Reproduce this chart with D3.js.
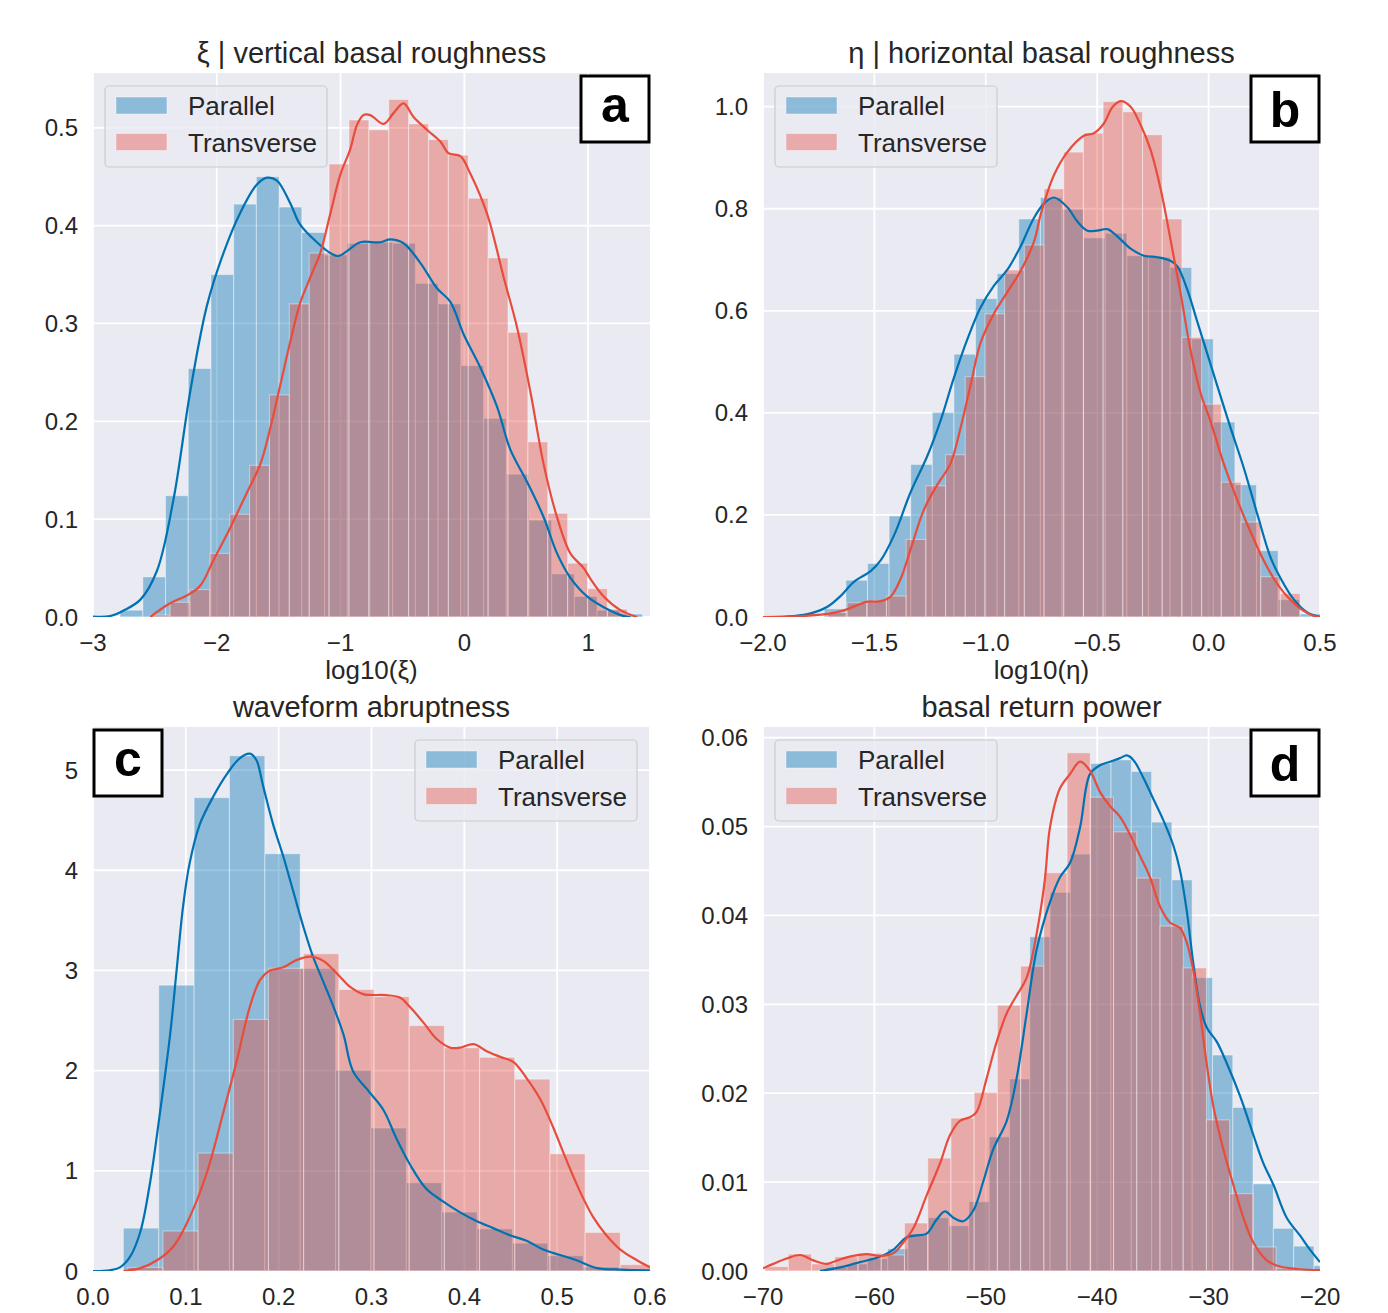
<!DOCTYPE html>
<html><head><meta charset="utf-8">
<script src="https://cdn.jsdelivr.net/npm/d3@7"></script>
<style>
body{margin:0;background:#fff}
text{font-family:"Liberation Sans",Arial,sans-serif;fill:#262626}
</style>
</head><body>
<svg id="chart" width="1388" height="1313"></svg>
<script>
// ---------------- DATA ----------------
const seriesNames = ["Parallel", "Transverse"];

// Panel a : log10(xi)
const aTitle = "ξ | vertical basal roughness";
const aXLabel = "log10(ξ)";
const aXTicks = [-3, -2, -1, 0, 1];
const aYTicks = [0, 0.1, 0.2, 0.3, 0.4, 0.5];
const aParallelBinStart = -2.781, aParallelBinWidth = 0.1835;
const aParallelHist = [0.007,0.041,0.124,0.254,0.350,0.422,0.450,0.419,0.393,0.370,0.382,0.383,0.382,0.341,0.320,0.257,0.203,0.146,0.099,0.044,0.021,0.007,0.003];
const aTransverseBinStart = -2.538, aTransverseBinWidth = 0.1606;
const aTransverseHist = [0.002,0.015,0.028,0.065,0.105,0.155,0.227,0.320,0.372,0.463,0.508,0.498,0.529,0.504,0.488,0.472,0.428,0.367,0.291,0.179,0.106,0.055,0.029,0.008];
const aParallelKde = [[-3.0,0.0005],[-2.862,0.001],[-2.754,0.0066],[-2.619,0.0175],[-2.484,0.047],[-2.350,0.120],[-2.215,0.230],[-2.080,0.318],[-1.946,0.372],[-1.811,0.413],[-1.676,0.442],[-1.595,0.449],[-1.514,0.446],[-1.407,0.423],[-1.326,0.401],[-1.191,0.383],[-1.083,0.372],[-1.016,0.369],[-0.948,0.374],[-0.841,0.383],[-0.679,0.383],[-0.598,0.386],[-0.491,0.382],[-0.356,0.362],[-0.221,0.336],[-0.113,0.322],[-0.006,0.289],[0.129,0.255],[0.264,0.215],[0.372,0.171],[0.507,0.138],[0.641,0.102],[0.749,0.065],[0.857,0.040],[0.992,0.021],[1.126,0.010],[1.288,0.001],[1.342,0.0]];
const aTransverseKde = [[-2.538,0],[-2.377,0.014],[-2.242,0.022],[-2.134,0.032],[-2.027,0.058],[-1.892,0.091],[-1.757,0.127],[-1.649,0.156],[-1.568,0.193],[-1.487,0.237],[-1.407,0.281],[-1.326,0.321],[-1.245,0.347],[-1.164,0.372],[-1.083,0.412],[-1.002,0.452],[-0.922,0.478],[-0.867,0.503],[-0.814,0.513],[-0.760,0.513],[-0.652,0.504],[-0.572,0.515],[-0.491,0.525],[-0.410,0.511],[-0.302,0.498],[-0.194,0.486],[-0.127,0.474],[-0.032,0.471],[0.049,0.453],[0.184,0.412],[0.318,0.347],[0.426,0.296],[0.534,0.230],[0.641,0.156],[0.749,0.102],[0.857,0.065],[0.964,0.050],[1.019,0.039],[1.126,0.021],[1.261,0.007],[1.396,0]];

// Panel b : log10(eta)
const bTitle = "η | horizontal basal roughness";
const bXLabel = "log10(η)";
const bXTicks = [-2.0, -1.5, -1.0, -0.5, 0.0, 0.5];
const bYTicks = [0, 0.2, 0.4, 0.6, 0.8, 1.0];
const bParallelBinStart = -1.725, bParallelBinWidth = 0.097;
const bParallelHist = [0.016,0.072,0.105,0.198,0.299,0.401,0.515,0.624,0.673,0.780,0.822,0.799,0.743,0.752,0.708,0.705,0.685,0.545,0.382,0.259,0.130,0.034,0.006];
const bTransverseBinStart = -1.711, bTransverseBinWidth = 0.0884;
const bTransverseHist = [0.009,0.028,0.032,0.041,0.152,0.257,0.318,0.471,0.594,0.680,0.729,0.839,0.911,0.948,1.010,0.990,0.945,0.780,0.548,0.417,0.264,0.186,0.079,0.046];
const bParallelKde = [[-2.0,0],[-1.861,0.002],[-1.786,0.007],[-1.711,0.020],[-1.652,0.041],[-1.592,0.069],[-1.517,0.090],[-1.472,0.111],[-1.412,0.160],[-1.338,0.244],[-1.263,0.315],[-1.203,0.385],[-1.143,0.469],[-1.083,0.544],[-1.023,0.607],[-0.964,0.649],[-0.904,0.680],[-0.844,0.726],[-0.784,0.782],[-0.739,0.810],[-0.694,0.822],[-0.634,0.803],[-0.589,0.775],[-0.544,0.757],[-0.500,0.757],[-0.455,0.760],[-0.410,0.746],[-0.350,0.722],[-0.290,0.708],[-0.230,0.705],[-0.171,0.698],[-0.140,0.687],[-0.096,0.642],[-0.051,0.579],[-0.006,0.516],[0.039,0.453],[0.099,0.370],[0.158,0.292],[0.219,0.201],[0.278,0.117],[0.323,0.076],[0.383,0.034],[0.443,0.009],[0.503,0]];
const bTransverseKde = [[-2.0,0],[-1.861,0.001],[-1.711,0.006],[-1.637,0.013],[-1.577,0.023],[-1.532,0.030],[-1.472,0.031],[-1.427,0.040],[-1.382,0.075],[-1.338,0.132],[-1.278,0.210],[-1.218,0.259],[-1.158,0.301],[-1.113,0.371],[-1.068,0.455],[-1.023,0.538],[-0.964,0.594],[-0.904,0.636],[-0.844,0.678],[-0.784,0.735],[-0.753,0.790],[-0.694,0.866],[-0.634,0.911],[-0.560,0.943],[-0.515,0.948],[-0.470,0.967],[-0.432,0.999],[-0.395,1.011],[-0.350,1.000],[-0.305,0.964],[-0.260,0.915],[-0.215,0.838],[-0.171,0.740],[-0.126,0.635],[-0.081,0.523],[-0.036,0.439],[0.009,0.383],[0.069,0.299],[0.129,0.229],[0.189,0.166],[0.248,0.110],[0.293,0.075],[0.353,0.040],[0.413,0.016],[0.473,0.002],[0.503,0]];

// Panel c : waveform abruptness
const cTitle = "waveform abruptness";
const cXTicks = [0.0, 0.1, 0.2, 0.3, 0.4, 0.5, 0.6];
const cYTicks = [0, 1, 2, 3, 4, 5];
const cParallelBinStart = 0.0327, cParallelBinWidth = 0.0381;
const cParallelHist = [0.428,2.853,4.725,5.143,4.165,3.020,2.004,1.427,0.881,0.588,0.421,0.278,0.153,0.040];
const cTransverseBinStart = 0.0374, cTransverseBinWidth = 0.0379;
const cTransverseHist = [0.036,0.399,1.177,2.511,3.021,3.167,2.810,2.739,2.450,2.229,2.133,1.915,1.170,0.385,0.064];
const cParallelKde = [[0.0,0],[0.018,0.007],[0.029,0.036],[0.040,0.143],[0.051,0.392],[0.061,0.856],[0.072,1.569],[0.083,2.354],[0.090,2.996],[0.097,3.638],[0.104,4.066],[0.115,4.458],[0.130,4.743],[0.144,4.957],[0.158,5.118],[0.169,5.164],[0.176,5.100],[0.183,4.850],[0.194,4.458],[0.205,4.137],[0.216,3.780],[0.227,3.424],[0.237,3.138],[0.248,2.889],[0.259,2.639],[0.270,2.354],[0.280,1.997],[0.298,1.783],[0.313,1.605],[0.327,1.320],[0.341,1.070],[0.359,0.820],[0.377,0.695],[0.395,0.588],[0.413,0.499],[0.431,0.428],[0.449,0.357],[0.467,0.303],[0.485,0.214],[0.503,0.160],[0.521,0.107],[0.543,0.029],[0.568,0.014],[0.600,0.007]];
const cTransverseKde = [[0.033,0],[0.051,0.029],[0.069,0.107],[0.087,0.250],[0.104,0.535],[0.122,0.963],[0.140,1.569],[0.155,2.104],[0.169,2.639],[0.180,2.906],[0.190,2.996],[0.205,3.031],[0.219,3.103],[0.234,3.138],[0.248,3.096],[0.263,2.967],[0.277,2.835],[0.291,2.764],[0.316,2.753],[0.331,2.728],[0.341,2.639],[0.356,2.479],[0.370,2.318],[0.385,2.229],[0.395,2.229],[0.410,2.265],[0.424,2.194],[0.438,2.140],[0.453,2.086],[0.467,1.926],[0.482,1.712],[0.496,1.427],[0.510,1.106],[0.525,0.785],[0.539,0.535],[0.553,0.357],[0.568,0.214],[0.586,0.107],[0.600,0.036]];

// Panel d : basal return power
const dTitle = "basal return power";
const dXTicks = [-70, -60, -50, -40, -30, -20];
const dYTicks = [0, 0.01, 0.02, 0.03, 0.04, 0.05, 0.06];
const dParallelBinStart = -64.27, dParallelBinWidth = 1.822;
const dParallelHist = [0.0004,0.0008,0.0014,0.0025,0.0042,0.0060,0.0051,0.0078,0.0151,0.0216,0.0376,0.0426,0.0469,0.0571,0.0575,0.0562,0.0505,0.0440,0.0330,0.0243,0.0184,0.0098,0.0048,0.0028,0.0006];
const dTransverseBinStart = -69.81, dTransverseBinWidth = 2.085;
const dTransverseHist = [0.0005,0.0019,0.0008,0.0016,0.0020,0.0018,0.0054,0.0127,0.0172,0.0201,0.0299,0.0343,0.0448,0.0583,0.0533,0.0494,0.0442,0.0388,0.0341,0.0170,0.0087,0.0027,0.0003];
const dParallelKde = [[-64.88,0],[-63.09,0.0004],[-61.29,0.0010],[-59.50,0.0016],[-58.30,0.0024],[-57.10,0.0038],[-56.20,0.0040],[-55.31,0.0042],[-54.41,0.0058],[-53.66,0.0067],[-52.92,0.0060],[-52.02,0.0056],[-51.12,0.0068],[-50.22,0.0101],[-49.33,0.0137],[-48.12,0.0169],[-47.23,0.0217],[-46.33,0.0290],[-45.43,0.0362],[-44.24,0.0415],[-43.34,0.0443],[-42.44,0.0459],[-41.54,0.0499],[-40.65,0.0559],[-39.75,0.0569],[-38.85,0.0573],[-37.95,0.0577],[-37.35,0.0580],[-36.76,0.0575],[-35.86,0.0555],[-34.96,0.0531],[-34.06,0.0507],[-33.17,0.0479],[-32.57,0.0451],[-31.97,0.0406],[-31.37,0.0346],[-30.77,0.0298],[-30.17,0.0274],[-29.27,0.0258],[-28.38,0.0234],[-27.18,0.0197],[-25.98,0.0153],[-25.08,0.0121],[-24.18,0.0097],[-22.99,0.0060],[-21.80,0.0040],[-20.90,0.0024],[-20.00,0.0010]];
const dTransverseKde = [[-70.0,0.0003],[-69.08,0.0008],[-67.88,0.0014],[-66.68,0.0018],[-65.48,0.0012],[-64.28,0.0008],[-63.09,0.0013],[-61.89,0.0017],[-60.69,0.0019],[-59.50,0.0017],[-58.30,0.0020],[-57.41,0.0032],[-56.51,0.0048],[-55.31,0.0085],[-54.11,0.0121],[-53.21,0.0153],[-52.32,0.0169],[-51.42,0.0173],[-50.82,0.0179],[-49.92,0.0217],[-49.02,0.0258],[-48.12,0.0290],[-47.23,0.0310],[-46.33,0.0330],[-45.43,0.0380],[-44.70,0.0440],[-44.24,0.0499],[-43.34,0.0543],[-42.44,0.0559],[-41.54,0.0573],[-40.65,0.0563],[-39.75,0.0539],[-38.85,0.0523],[-37.95,0.0511],[-37.06,0.0491],[-36.16,0.0467],[-35.26,0.0443],[-34.36,0.0410],[-33.47,0.0392],[-32.57,0.0386],[-31.97,0.0370],[-31.37,0.0338],[-30.77,0.0290],[-30.17,0.0233],[-29.57,0.0185],[-28.68,0.0137],[-27.78,0.0097],[-26.88,0.0060],[-25.98,0.0032],[-24.78,0.0012],[-23.59,0.0005],[-21.80,0.0002],[-20.00,0.0001]];

// ---------------- LAYOUT / STYLE ----------------
const COLORS = {Parallel: "#0072B2", Transverse: "#E74C3C"};
const BG = "#EAEAF2";

const panels = [
  {id:"a", left:93, right:650, top:73, bottom:617, xDomain:[-3,1.5], yDomain:[0,0.556],
   xTicks:aXTicks, yTicks:aYTicks, xFmt:d3.format("d"), yFmt:d3.format(".1f"),
   title:aTitle, xLabel:aXLabel, legendSide:"left", letterSide:"right",
   hist:[[aParallelBinStart,aParallelBinWidth,aParallelHist],[aTransverseBinStart,aTransverseBinWidth,aTransverseHist]],
   kde:[aParallelKde,aTransverseKde]},
  {id:"b", left:763, right:1320, top:73, bottom:617, xDomain:[-2,0.5], yDomain:[0,1.066],
   xTicks:bXTicks, yTicks:bYTicks, xFmt:d3.format(".1f"), yFmt:d3.format(".1f"),
   title:bTitle, xLabel:bXLabel, legendSide:"left", letterSide:"right",
   hist:[[bParallelBinStart,bParallelBinWidth,bParallelHist],[bTransverseBinStart,bTransverseBinWidth,bTransverseHist]],
   kde:[bParallelKde,bTransverseKde]},
  {id:"c", left:93, right:650, top:727, bottom:1271, xDomain:[0,0.6], yDomain:[0,5.43],
   xTicks:cXTicks, yTicks:cYTicks, xFmt:d3.format(".1f"), yFmt:d3.format("d"),
   title:cTitle, xLabel:null, legendSide:"right", letterSide:"left",
   hist:[[cParallelBinStart,cParallelBinWidth,cParallelHist],[cTransverseBinStart,cTransverseBinWidth,cTransverseHist]],
   kde:[cParallelKde,cTransverseKde]},
  {id:"d", left:763, right:1320, top:727, bottom:1271, xDomain:[-70,-20], yDomain:[0,0.0612],
   xTicks:dXTicks, yTicks:dYTicks, xFmt:d3.format("d"), yFmt:d3.format(".2f"),
   title:dTitle, xLabel:null, legendSide:"left", letterSide:"right",
   hist:[[dParallelBinStart,dParallelBinWidth,dParallelHist],[dTransverseBinStart,dTransverseBinWidth,dTransverseHist]],
   kde:[dParallelKde,dTransverseKde]}
];

const svg = d3.select("#chart");
const defs = svg.append("defs");

panels.forEach(p => {
  const x = d3.scaleLinear().domain(p.xDomain).range([p.left, p.right]);
  const y = d3.scaleLinear().domain(p.yDomain).range([p.bottom, p.top]);
  const g = svg.append("g");

  defs.append("clipPath").attr("id", "clip-" + p.id)
    .append("rect").attr("x", p.left).attr("y", p.top)
    .attr("width", p.right - p.left).attr("height", p.bottom - p.top);

  g.append("rect").attr("x", p.left).attr("y", p.top)
    .attr("width", p.right - p.left).attr("height", p.bottom - p.top).attr("fill", BG);

  g.append("g").selectAll("line").data(p.xTicks).join("line")
    .attr("x1", d => x(d)).attr("x2", d => x(d)).attr("y1", p.top).attr("y2", p.bottom)
    .attr("stroke", "#fff").attr("stroke-width", 1.8);
  g.append("g").selectAll("line").data(p.yTicks).join("line")
    .attr("y1", d => y(d)).attr("y2", d => y(d)).attr("x1", p.left).attr("x2", p.right)
    .attr("stroke", "#fff").attr("stroke-width", 1.8);

  const plot = g.append("g").attr("clip-path", `url(#clip-${p.id})`);

  p.hist.forEach(([start, width, vals], si) => {
    const col = COLORS[seriesNames[si]];
    plot.append("g").selectAll("rect").data(vals).join("rect")
      .attr("x", (v, i) => x(start + i * width))
      .attr("width", (v, i) => x(start + (i + 1) * width) - x(start + i * width))
      .attr("y", v => y(v))
      .attr("height", v => y(0) - y(v))
      .attr("fill", col).attr("fill-opacity", 0.4)
      .attr("stroke", "#fff").attr("stroke-opacity", 0.4).attr("stroke-width", 1.1);
  });

  const line = d3.line().x(d => x(d[0])).y(d => y(d[1])).curve(d3.curveCatmullRom.alpha(0.5));
  p.kde.forEach((pts, si) => {
    plot.append("path").datum(pts).attr("d", line)
      .attr("fill", "none").attr("stroke", COLORS[seriesNames[si]])
      .attr("stroke-width", 2.2).attr("stroke-linejoin", "round");
  });

  g.append("g").selectAll("text").data(p.xTicks).join("text")
    .attr("x", d => x(d)).attr("y", p.bottom + 34)
    .attr("text-anchor", "middle").attr("font-size", 24).text(d => p.xFmt(d));
  g.append("g").selectAll("text").data(p.yTicks).join("text")
    .attr("x", p.left - 15).attr("y", d => y(d) + 8.5)
    .attr("text-anchor", "end").attr("font-size", 24).text(d => p.yFmt(d));

  g.append("text").attr("x", (p.left + p.right) / 2).attr("y", p.top - 10)
    .attr("text-anchor", "middle").attr("font-size", 29).text(p.title);

  if (p.xLabel) {
    g.append("text").attr("x", (p.left + p.right) / 2).attr("y", p.bottom + 62)
      .attr("text-anchor", "middle").attr("font-size", 26).text(p.xLabel);
  }

  const lw = 222, lh = 81;
  const lx = p.legendSide === "left" ? p.left + 12 : p.right - 13 - lw;
  const ly = p.top + 13;
  const lg = g.append("g");
  lg.append("rect").attr("x", lx).attr("y", ly).attr("width", lw).attr("height", lh)
    .attr("rx", 4).attr("fill", BG).attr("fill-opacity", 0.8)
    .attr("stroke", "#cccccc").attr("stroke-width", 1.2);
  seriesNames.forEach((name, i) => {
    lg.append("rect").attr("x", lx + 11).attr("y", ly + 11 + i * 36.5)
      .attr("width", 51).attr("height", 17)
      .attr("fill", COLORS[name]).attr("fill-opacity", 0.4)
      .attr("stroke", "#fff").attr("stroke-opacity", 0.4);
    lg.append("text").attr("x", lx + 83).attr("y", ly + 29 + i * 36.5)
      .attr("font-size", 26).text(name);
  });

  const bw = 68, bh = 66;
  const bx = p.letterSide === "right" ? p.right - 1 - bw : p.left + 1;
  const by = p.top + 3;
  g.append("rect").attr("x", bx).attr("y", by).attr("width", bw).attr("height", bh)
    .attr("fill", "#fff").attr("stroke", "#000").attr("stroke-width", 3);
  const asc = (p.id === "b" || p.id === "d");
  g.append("text").attr("x", bx + bw / 2).attr("y", by + bh / 2 + (asc ? 18 : 13))
    .attr("text-anchor", "middle").attr("font-size", 50).attr("font-weight", "bold")
    .style("fill", "#000").text(p.id);
});
</script>
</body></html>
